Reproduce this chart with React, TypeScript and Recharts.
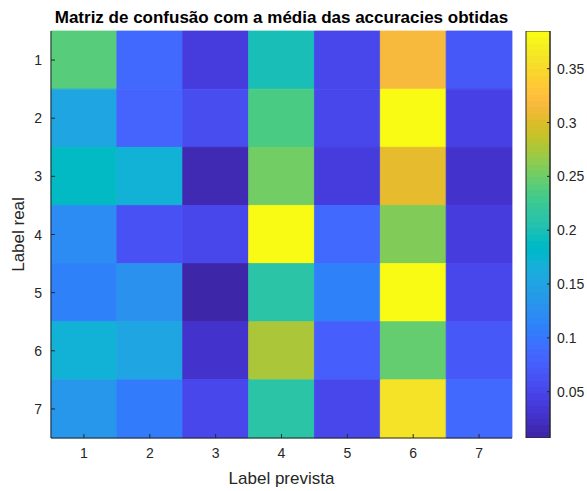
import React from 'react';
import { ScatterChart, Scatter, XAxis, YAxis, ReferenceArea, BarChart, Bar } from 'recharts';

// ---- data ----
const predictedLabels = [1, 2, 3, 4, 5, 6, 7];
const realLabels = [1, 2, 3, 4, 5, 6, 7];
const realRow1 = [0.240, 0.087, 0.039, 0.199, 0.051, 0.316, 0.069];
const realRow2 = [0.151, 0.081, 0.057, 0.234, 0.051, 0.385, 0.045];
const realRow3 = [0.189, 0.169, 0.016, 0.251, 0.039, 0.304, 0.028];
const realRow4 = [0.122, 0.063, 0.051, 0.382, 0.087, 0.257, 0.039];
const realRow5 = [0.110, 0.128, 0.007, 0.210, 0.112, 0.380, 0.051];
const realRow6 = [0.169, 0.149, 0.030, 0.275, 0.075, 0.246, 0.069];
const realRow7 = [0.134, 0.104, 0.051, 0.210, 0.051, 0.358, 0.087];
const accuracyRows = [realRow1, realRow2, realRow3, realRow4, realRow5, realRow6, realRow7];
const colorbarTicks = [0.05, 0.1, 0.15, 0.2, 0.25, 0.3, 0.35];

const TITLE = 'Matriz de confusão com a média das accuracies obtidas';
const X_LABEL = 'Label prevista';
const Y_LABEL = 'Label real';

// ---- parula(64) colormap ----
const PARULA: number[][] = [
  [0.2422, 0.1504, 0.6603], [0.2504, 0.1650, 0.7076], [0.2578, 0.1818, 0.7511], [0.2647, 0.1978, 0.7952],
  [0.2706, 0.2147, 0.8364], [0.2751, 0.2342, 0.8710], [0.2783, 0.2559, 0.8991], [0.2803, 0.2782, 0.9221],
  [0.2813, 0.3006, 0.9414], [0.2810, 0.3228, 0.9579], [0.2795, 0.3447, 0.9717], [0.2760, 0.3667, 0.9829],
  [0.2699, 0.3892, 0.9906], [0.2602, 0.4123, 0.9952], [0.2440, 0.4358, 0.9988], [0.2206, 0.4603, 0.9973],
  [0.1963, 0.4847, 0.9892], [0.1834, 0.5074, 0.9798], [0.1786, 0.5289, 0.9682], [0.1764, 0.5499, 0.9520],
  [0.1687, 0.5703, 0.9359], [0.1540, 0.5902, 0.9218], [0.1460, 0.6091, 0.9079], [0.1380, 0.6276, 0.8973],
  [0.1248, 0.6459, 0.8883], [0.1113, 0.6635, 0.8763], [0.0952, 0.6798, 0.8598], [0.0689, 0.6948, 0.8394],
  [0.0297, 0.7082, 0.8163], [0.0036, 0.7203, 0.7917], [0.0067, 0.7312, 0.7660], [0.0433, 0.7411, 0.7394],
  [0.0964, 0.7500, 0.7120], [0.1408, 0.7584, 0.6842], [0.1717, 0.7670, 0.6554], [0.1938, 0.7758, 0.6251],
  [0.2161, 0.7843, 0.5923], [0.2470, 0.7918, 0.5567], [0.2906, 0.7973, 0.5188], [0.3406, 0.8008, 0.4789],
  [0.3909, 0.8029, 0.4354], [0.4456, 0.8024, 0.3909], [0.5044, 0.7993, 0.3480], [0.5616, 0.7942, 0.3045],
  [0.6174, 0.7876, 0.2612], [0.6720, 0.7793, 0.2227], [0.7242, 0.7698, 0.1910], [0.7738, 0.7598, 0.1646],
  [0.8203, 0.7498, 0.1535], [0.8634, 0.7406, 0.1596], [0.9035, 0.7330, 0.1774], [0.9393, 0.7288, 0.2100],
  [0.9728, 0.7298, 0.2394], [0.9956, 0.7434, 0.2371], [0.9970, 0.7659, 0.2199], [0.9952, 0.7893, 0.2028],
  [0.9892, 0.8136, 0.1885], [0.9786, 0.8386, 0.1766], [0.9676, 0.8639, 0.1643], [0.9610, 0.8890, 0.1537],
  [0.9597, 0.9135, 0.1423], [0.9628, 0.9373, 0.1265], [0.9691, 0.9606, 0.1064], [0.9769, 0.9839, 0.0805],
];
const rgb = (c: number[]) => `rgb(${Math.round(c[0] * 255)},${Math.round(c[1] * 255)},${Math.round(c[2] * 255)})`;

const cells = accuracyRows.flatMap((row, ri) =>
  row.map((v, ci) => ({ x: predictedLabels[ci], y: realLabels[ri], v }))
);
const allValues = cells.map((c) => c.v);
const cmin = Math.min(...allValues);
const cmax = Math.max(...allValues);
const parulaColor = (v: number) => {
  const t = (v - cmin) / (cmax - cmin);
  const idx = Math.min(PARULA.length - 1, Math.max(0, Math.floor(t * PARULA.length)));
  return rgb(PARULA[idx]);
};
const colorbarData = [{ name: 'cb', range: [cmin, cmax] }];

const AXIS = '#262626';
const FONT = '"Liberation Sans", Arial, Helvetica, sans-serif';
const TICK_LEN = 4;

const BottomTick = (p: any) => (
  <g>
    <line x1={p.x} x2={p.x} y1={p.y} y2={p.y - TICK_LEN} stroke={AXIS} />
    <text x={p.x} y={p.y + 20} textAnchor="middle" fontSize={14} fill={AXIS} fontFamily={FONT}>
      {p.payload.value}
    </text>
  </g>
);
const TopTick = (p: any) => (
  <line x1={p.x} x2={p.x} y1={p.y} y2={p.y + TICK_LEN} stroke={AXIS} />
);
const LeftTick = (p: any) => (
  <g>
    <line x1={p.x} x2={p.x + TICK_LEN} y1={p.y} y2={p.y} stroke={AXIS} />
    <text x={p.x - 9} y={p.y + 5} textAnchor="end" fontSize={14} fill={AXIS} fontFamily={FONT}>
      {p.payload.value}
    </text>
  </g>
);
const RightTick = (p: any) => (
  <line x1={p.x} x2={p.x - TICK_LEN} y1={p.y} y2={p.y} stroke={AXIS} />
);
const ColorbarTick = (p: any) => (
  <g>
    <line x1={p.x} x2={p.x - 3} y1={p.y} y2={p.y} stroke={AXIS} />
    <text x={p.x + 7} y={p.y + 5} textAnchor="start" fontSize={14} fill={AXIS} fontFamily={FONT}>
      {p.payload.value}
    </text>
  </g>
);

export default function App() {
  return (
    <div style={{ position: 'absolute', left: 0, top: 0, width: 587, height: 491, background: '#fff', overflow: 'hidden' }}>
      <div style={{ position: 'absolute', left: 0, top: 0 }}>
        <ScatterChart width={587} height={491} margin={{ top: 31, right: 75, bottom: 13, left: 11 }}>
          {cells.map((c, i) => (
            <ReferenceArea
              key={i}
              x1={c.x - 0.5}
              x2={c.x + 0.5}
              y1={c.y - 0.5}
              y2={c.y + 0.5}
              fill={parulaColor(c.v)}
              fillOpacity={1}
              stroke={parulaColor(c.v)}
              strokeWidth={0.8}
              ifOverflow="visible"
            />
          ))}
          <XAxis
            type="number"
            dataKey="x"
            domain={[0.5, 7.5]}
            ticks={predictedLabels}
            allowDataOverflow
            height={40}
            tickSize={0}
            tickMargin={0}
            tickLine={false}
            axisLine={{ stroke: AXIS }}
            tick={<BottomTick />}
            interval={0}
          />
          <XAxis
            xAxisId="top"
            orientation="top"
            type="number"
            dataKey="x"
            domain={[0.5, 7.5]}
            ticks={predictedLabels}
            allowDataOverflow
            height={0}
            tickSize={0}
            tickMargin={0}
            tickLine={false}
            axisLine={{ stroke: AXIS }}
            tick={<TopTick />}
            interval={0}
          />
          <YAxis
            type="number"
            dataKey="y"
            domain={[0.5, 7.5]}
            reversed
            ticks={realLabels}
            allowDataOverflow
            width={40}
            tickSize={0}
            tickMargin={0}
            tickLine={false}
            axisLine={{ stroke: AXIS }}
            tick={<LeftTick />}
            interval={0}
          />
          <YAxis
            yAxisId="right"
            orientation="right"
            type="number"
            dataKey="y"
            domain={[0.5, 7.5]}
            reversed
            ticks={realLabels}
            allowDataOverflow
            width={0}
            tickSize={0}
            tickMargin={0}
            tickLine={false}
            axisLine={{ stroke: AXIS }}
            tick={<RightTick />}
            interval={0}
          />
          <Scatter data={cells} isAnimationActive={false} shape={() => <g />} />
        </ScatterChart>
      </div>
      <div style={{ position: 'absolute', left: 0, top: 0 }}>
        <BarChart width={587} height={491} data={colorbarData} margin={{ top: 31, right: 0, bottom: 53, left: 526 }} barCategoryGap={0}>
          <defs>
            <linearGradient id="parulaGrad" x1="0" y1="1" x2="0" y2="0">
              {PARULA.flatMap((c, i) => [
                <stop key={`a${i}`} offset={i / PARULA.length} stopColor={rgb(c)} />,
                <stop key={`b${i}`} offset={(i + 1) / PARULA.length} stopColor={rgb(c)} />,
              ])}
            </linearGradient>
          </defs>
          <XAxis dataKey="name" hide />
          <YAxis
            orientation="right"
            type="number"
            domain={[cmin, cmax]}
            ticks={colorbarTicks}
            allowDataOverflow
            width={37}
            tickSize={0}
            tickMargin={0}
            tickLine={false}
            axisLine={{ stroke: AXIS }}
            tick={<ColorbarTick />}
            interval={0}
          />
          <Bar dataKey="range" fill="url(#parulaGrad)" stroke={AXIS} strokeWidth={1} isAnimationActive={false} />
        </BarChart>
      </div>
      <svg width={587} height={491} style={{ position: 'absolute', left: 0, top: 0, pointerEvents: 'none' }}>
        <text x={281.5} y={23} textAnchor="middle" fontSize={17} fontWeight="bold" fill="#000" fontFamily={FONT}>
          {TITLE}
        </text>
        <text x={281.5} y={484} textAnchor="middle" fontSize={17} fill={AXIS} fontFamily={FONT}>
          {X_LABEL}
        </text>
        <text x={0} y={0} transform="translate(24,234.5) rotate(-90)" textAnchor="middle" fontSize={17} fill={AXIS} fontFamily={FONT}>
          {Y_LABEL}
        </text>
      </svg>
    </div>
  );
}
